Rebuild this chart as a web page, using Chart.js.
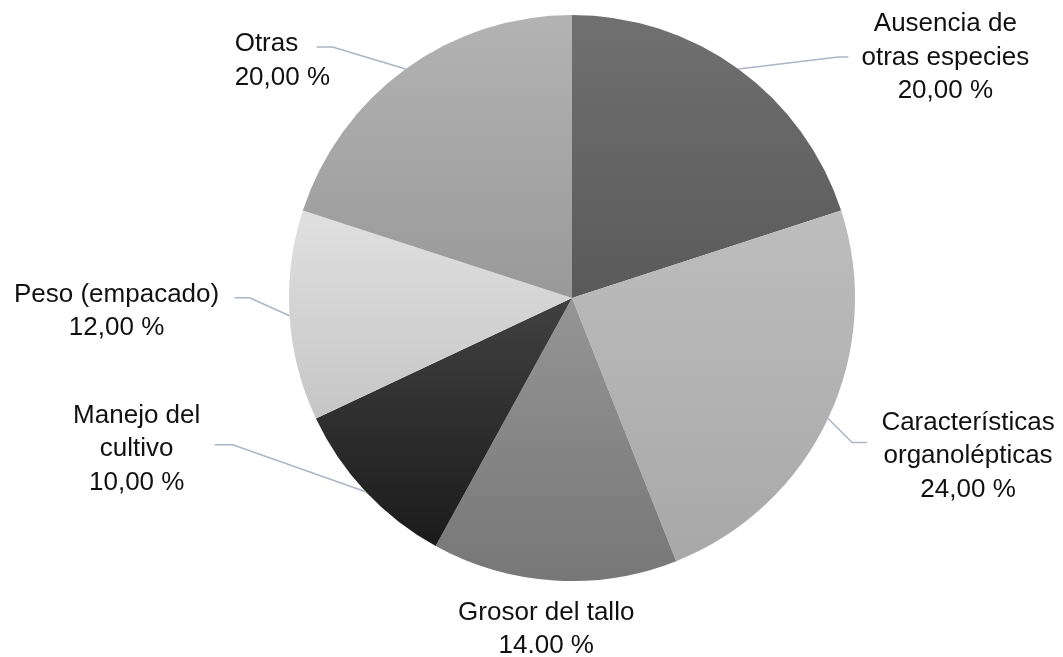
<!DOCTYPE html>
<html>
<head>
<meta charset="utf-8">
<script src="https://cdn.jsdelivr.net/npm/chart.js@4.4.0/dist/chart.umd.min.js"></script>
<style>
  html, body { margin: 0; padding: 0; background: #fff; }
  #wrap { width: 1063px; height: 657px; position: relative; }
</style>
</head>
<body>
<div id="wrap"><canvas id="myChart"></canvas></div>
<script>
const categories = [['Ausencia de', 'otras especies'], ['Características', 'organolépticas'], ['Grosor del tallo'], ['Manejo del', 'cultivo'], ['Peso (empacado)'], ['Otras']];
const values = [20, 24, 14, 10, 12, 20];
const pctLabels = ['20,00 %', '24,00 %', '14.00 %', '10,00 %', '12,00 %', '20,00 %'];

// vertical gradient for each slice, top -> bottom
const topColors = ['#707070', '#bdbdbd', '#959595', '#414141', '#e0e0e0', '#b3b3b3'];
const bottomColors = ['#5a5a5a', '#a8a8a8', '#777777', '#1b1b1b', '#c6c6c6', '#999999'];

// label placement: offsets from the point where the leader touches the slice edge
// e = elbow of the leader, l = end of the horizontal part, t = first text line
const labelPos = [
  { ex: 100, ey: -12, lx: 110, tx: 207, ty: -45, align: 'center' },
  { ex: 24, ey: 24, lx: 39, tx: 140, ty: 4, align: 'center' },
  { ex: null, tx: -8, ty: 32, align: 'center' },
  { ex: -133, ey: -47, lx: -151, tx: -229, ty: -76, align: 'center' },
  { ex: -40, ey: -18, lx: -55, tx: -173, ty: -21, align: 'center' },
  { ex: -73, ey: -22, lx: -89, tx: -171, ty: -25, align: 'left' }
];

function sliceRange(chart, i) {
  const a = chart.chartArea;
  const cx = (a.left + a.right) / 2, cy = (a.top + a.bottom) / 2;
  const r = Math.min(a.right - a.left, a.bottom - a.top) / 2;
  const total = values.reduce((s, v) => s + v, 0);
  let start = 0;
  for (let k = 0; k < i; k++) start += values[k];
  const a0 = start / total * 2 * Math.PI;
  const a1 = (start + values[i]) / total * 2 * Math.PI;
  const ys = [cy, cy - r * Math.cos(a0), cy - r * Math.cos(a1)];
  if (a0 <= 0 && a1 >= 0) ys.push(cy - r);
  if (a0 <= Math.PI && a1 >= Math.PI) ys.push(cy + r);
  return [Math.min(...ys), Math.max(...ys)];
}

const pieLabels = {
  id: 'pieLabels',
  afterDatasetsDraw(chart) {
    const c = chart.ctx;
    const meta = chart.getDatasetMeta(0);
    c.save();
    c.font = '26px "Liberation Sans", Arial, sans-serif';
    c.fillStyle = '#111';
    c.textBaseline = 'middle';
    meta.data.forEach((arc, i) => {
      const p = arc.getProps(['x', 'y', 'startAngle', 'endAngle', 'outerRadius'], true);
      const mid = (p.startAngle + p.endAngle) / 2;
      const px = p.x + p.outerRadius * Math.cos(mid);
      const py = p.y + p.outerRadius * Math.sin(mid);
      const L = labelPos[i];
      if (L.ex !== null) {
        c.strokeStyle = '#aab6c4';
        c.lineWidth = 1.5;
        c.beginPath();
        c.moveTo(px, py);
        c.lineTo(px + L.ex, py + L.ey);
        c.lineTo(px + L.lx, py + L.ey);
        c.stroke();
      }
      c.textAlign = L.align;
      const lines = categories[i].concat([pctLabels[i]]);
      lines.forEach((t, k) => {
        c.fillText(t, px + L.tx, py + L.ty + k * 33.5);
      });
    });
    c.restore();
  }
};

const ctx = document.getElementById('myChart').getContext('2d');
const myChart = new Chart(ctx, {
  type: 'pie',
  data: {
    labels: categories,
    datasets: [{
      data: values,
      backgroundColor: function(context) {
        const chart = context.chart;
        const i = context.dataIndex;
        if (!chart.chartArea) return bottomColors[i];
        const yr = sliceRange(chart, i);
        const g = chart.ctx.createLinearGradient(0, yr[0], 0, yr[1]);
        g.addColorStop(0, topColors[i]);
        g.addColorStop(1, bottomColors[i]);
        return g;
      },
      borderWidth: 0
    }]
  },
  options: {
    responsive: true,
    maintainAspectRatio: false,
    animation: false,
    events: [],
    layout: { padding: { left: 289, right: 208, top: 15, bottom: 76 } },
    plugins: {
      legend: { display: false },
      tooltip: { enabled: false }
    }
  },
  plugins: [pieLabels]
});
</script>
</body>
</html>
